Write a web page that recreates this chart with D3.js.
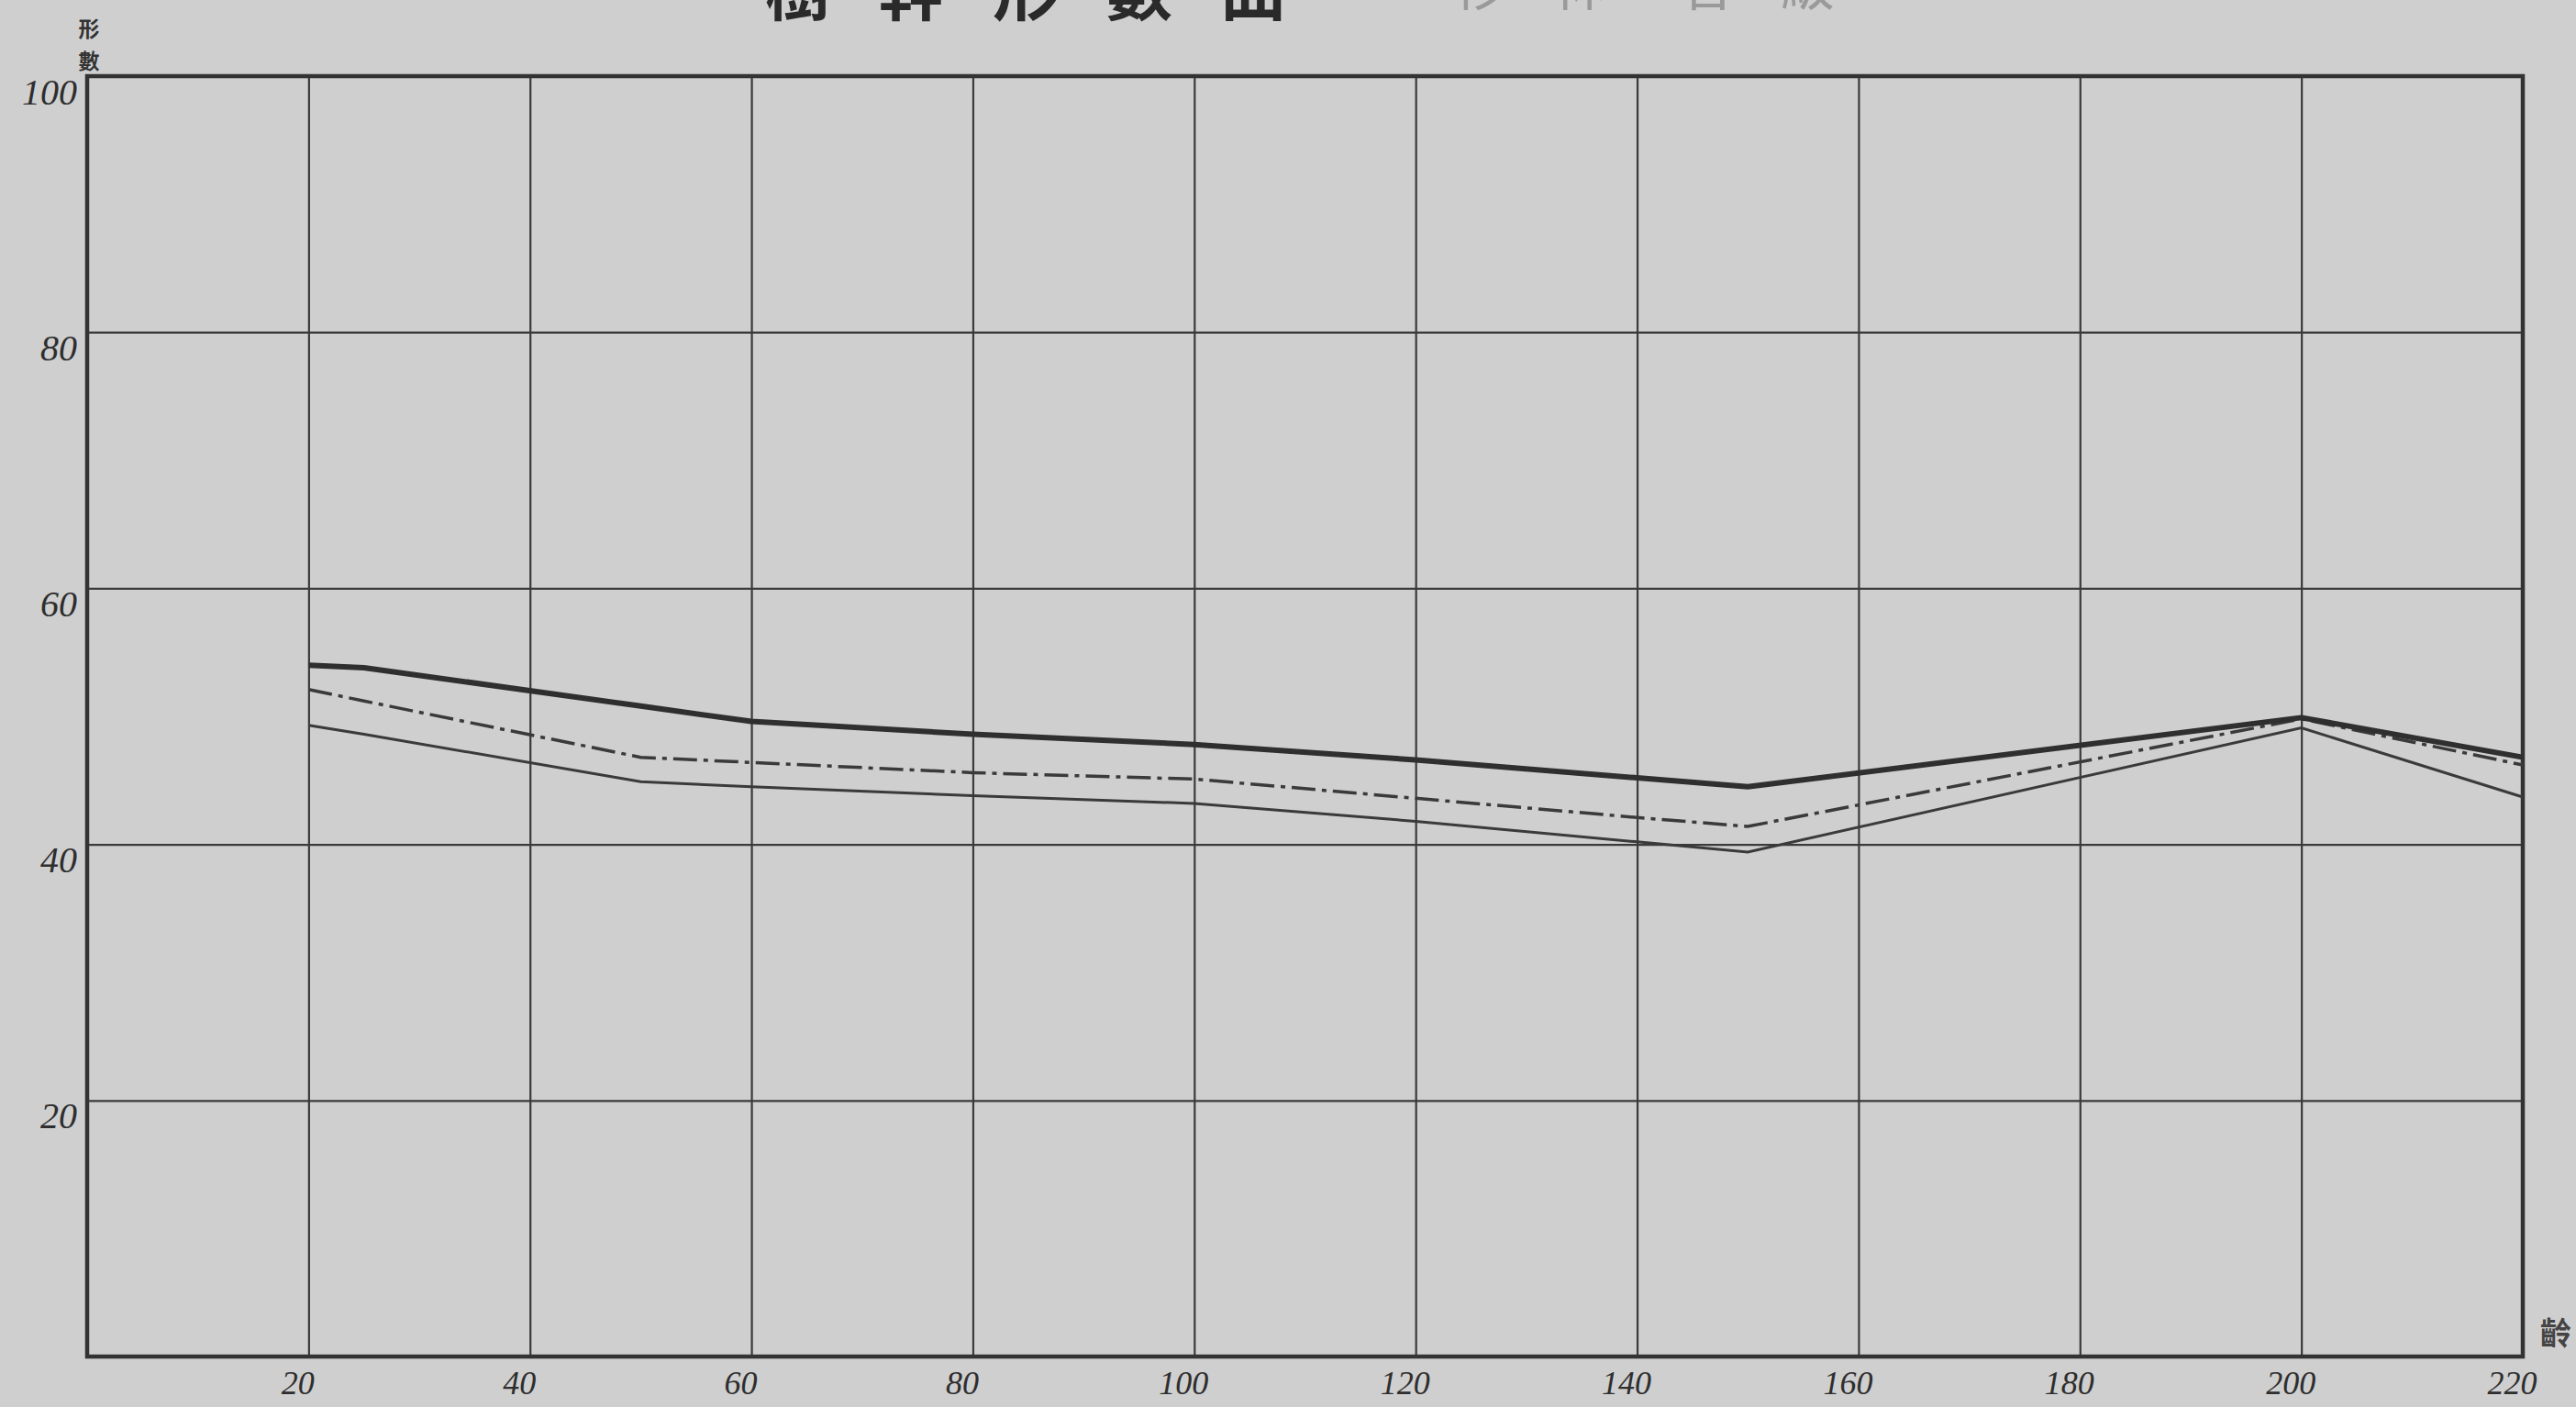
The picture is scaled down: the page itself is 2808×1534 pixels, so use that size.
<!DOCTYPE html>
<html>
<head>
<meta charset="utf-8">
<script src="https://cdn.jsdelivr.net/npm/d3@7/dist/d3.min.js"></script>
<style>
  html, body { margin: 0; padding: 0; background: #cfcfcf; overflow: hidden; }
  svg { display: block; }
</style>
</head>
<body>
<svg id="chart" width="2808" height="1534"></svg>
<script>
// ---- data ----
const titleMain = "樹幹形數曲線";
const titleSub = "杉林各級";
const yAxisLabel = ["形", "數"];
const xAxisLabel = "齡";
const xTicks = [20, 40, 60, 80, 100, 120, 140, 160, 180, 200, 220];
const yTicks = [20, 40, 60, 80, 100];
const xTickLabels = ["20", "40", "60", "80", "100", "120", "140", "160", "180", "200", "220"];
const yTickLabels = ["20", "40", "60", "80", "100"];

// x positions shared by the three curves
const xValues = [20, 25, 50, 60, 80, 100, 120, 140, 150, 200, 220];
// heavy solid curve (top)
const seriesHeavy = [54.0, 53.8, 50.8, 49.6, 48.6, 47.8, 46.6, 45.2, 44.5, 49.9, 46.8];
// dash-dot curve (middle)
const seriesDashDot = [52.1, 51.2, 46.8, 46.4, 45.6, 45.1, 43.6, 42.1, 41.4, 49.8, 46.2];
// thin solid curve (bottom)
const seriesThin = [49.3, 48.6, 44.9, 44.5, 43.8, 43.2, 41.8, 40.2, 39.4, 49.1, 43.7];

// ---- layout ----
const svg = d3.select("#chart");
const mLeft = 95, mRight = 2750, mTop = 83, mBottom = 1479;
const x = d3.scaleLinear().domain([0, 220]).range([mLeft, mRight]);
const y = d3.scaleLinear().domain([0, 100]).range([mBottom, mTop]);
const ink = "#3a3a3a";

// title (cut off by the top of the page, as in the reference)
const tg = svg.append("g").attr("font-family", "Noto Sans CJK TC").attr("font-weight", "bold").attr("fill", "#2a2a2a");
titleMain.split("").slice(0, 5).forEach((c, i) => {
  tg.append("text").attr("x", 870 + i * 124).attr("y", 16).attr("font-size", 72)
    .attr("text-anchor", "middle").text(c);
});
titleSub.split("").forEach((c, i) => {
  tg.append("text").attr("x", [1612, 1720, 1862, 1970][i]).attr("y", 6).attr("font-size", 60)
    .attr("text-anchor", "middle").attr("fill", "#9a9a9a").attr("font-weight", "normal").text(c);
});

// grid
const grid = svg.append("g");
grid.append("g")
  .attr("transform", `translate(0,${mBottom})`)
  .call(d3.axisBottom(x).tickValues(xTicks.filter(d => d < 220)).tickSize(-(mBottom - mTop)).tickFormat(""))
  .call(g => g.select(".domain").remove())
  .call(g => g.selectAll(".tick line").attr("stroke", ink).attr("stroke-width", 2.2));
grid.append("g")
  .attr("transform", `translate(${mLeft},0)`)
  .call(d3.axisLeft(y).tickValues(yTicks.filter(d => d < 100)).tickSize(-(mRight - mLeft)).tickFormat(""))
  .call(g => g.select(".domain").remove())
  .call(g => g.selectAll(".tick line").attr("stroke", ink).attr("stroke-width", 2.2));

// frame
svg.append("rect").attr("x", mLeft).attr("y", mTop).attr("width", mRight - mLeft).attr("height", mBottom - mTop)
  .attr("fill", "none").attr("stroke", "#333").attr("stroke-width", 4.5);

// tick labels
const labFont = "Liberation Serif";
const xa = svg.append("g").attr("transform", `translate(0,${mBottom + 12})`)
  .call(d3.axisBottom(x).tickValues(xTicks).tickSize(0).tickFormat((d, i) => xTickLabels[i]));
xa.select(".domain").remove();
xa.selectAll("text").attr("font-family", labFont).attr("font-style", "italic").attr("font-size", 36)
  .attr("fill", "#2e2e2e").attr("dx", -12);

const ya = svg.append("g").attr("transform", `translate(${mLeft - 8},0)`)
  .call(d3.axisLeft(y).tickValues(yTicks).tickSize(0).tickFormat((d, i) => yTickLabels[i]));
ya.select(".domain").remove();
ya.selectAll("text").attr("font-family", labFont).attr("font-style", "italic").attr("font-size", 40)
  .attr("fill", "#2e2e2e").attr("dy", "0.75em");

// axis labels
yAxisLabel.forEach((c, i) => {
  svg.append("text").attr("x", 97).attr("y", 40 + i * 35).attr("text-anchor", "middle")
    .attr("font-family", "Noto Sans CJK TC").attr("font-weight", "bold").attr("font-size", 23)
    .attr("fill", "#333").text(c);
});
svg.append("text").attr("x", 2786).attr("y", 1466).attr("text-anchor", "middle")
  .attr("font-family", "Noto Sans CJK TC").attr("font-weight", "bold").attr("font-size", 34)
  .attr("fill", "#444").text(xAxisLabel);

// curves
const line = d3.line().x(d => x(d[0])).y(d => y(d[1]));
const pts = s => xValues.map((v, i) => [v, s[i]]);
svg.append("path").attr("d", line(pts(seriesThin))).attr("fill", "none")
  .attr("stroke", ink).attr("stroke-width", 3);
svg.append("path").attr("d", line(pts(seriesDashDot))).attr("fill", "none")
  .attr("stroke", ink).attr("stroke-width", 3.5).attr("stroke-dasharray", "26,7,5,7");
svg.append("path").attr("d", line(pts(seriesHeavy))).attr("fill", "none")
  .attr("stroke", "#2f2f2f").attr("stroke-width", 6).attr("stroke-linejoin", "round");
</script>
</body>
</html>
